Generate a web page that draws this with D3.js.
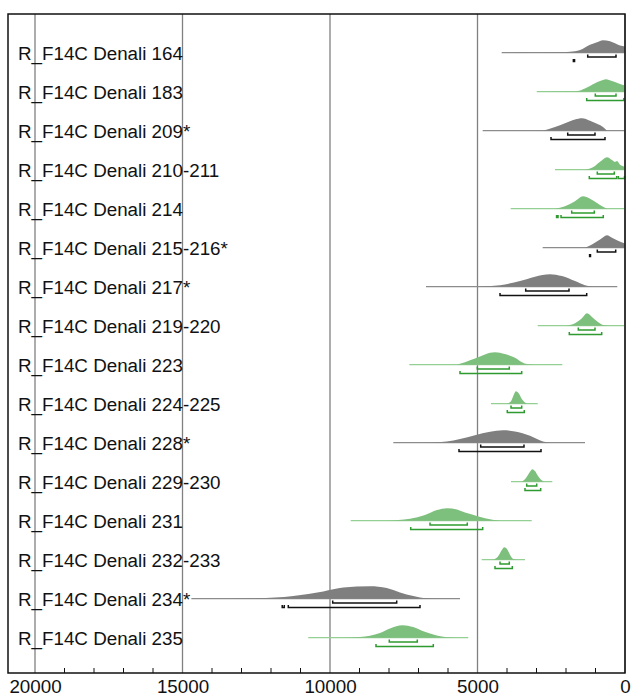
<!DOCTYPE html>
<html>
<head>
<meta charset="utf-8">
<script src="https://cdn.jsdelivr.net/npm/d3@7"></script>
<style>
  html, body { margin: 0; padding: 0; background: #fff; }
  svg { display: block; font-family: "Liberation Sans", Arial, sans-serif; }
</style>
</head>
<body>
<svg id="chart" width="631" height="699"></svg>
<script>
// Sample names, top to bottom
const labels = [
  "R_F14C Denali 164", "R_F14C Denali 183", "R_F14C Denali 209*", "R_F14C Denali 210-211",
  "R_F14C Denali 214", "R_F14C Denali 215-216*", "R_F14C Denali 217*", "R_F14C Denali 219-220",
  "R_F14C Denali 223", "R_F14C Denali 224-225", "R_F14C Denali 228*", "R_F14C Denali 229-230",
  "R_F14C Denali 231", "R_F14C Denali 232-233", "R_F14C Denali 234*", "R_F14C Denali 235"
];

// "grey" = outlier-flagged dates, "green" = accepted dates
const groups = [
  "grey", "green", "grey", "green", "green", "grey", "grey", "green",
  "green", "green", "grey", "green", "green", "green", "grey", "green"
];

// Full extent of each calibrated distribution (cal BP, older -> younger)
const tails = [
  [4180, 0], [2993, 0], [4824, 0], [2373, 0], [3875, 0], [2790, 0], [6746, 261], [2959, 0],
  [7312, 2125], [4542, 2959], [7854, 1356], [3864, 2464], [9298, 3163], [4858, 3390], [14700, 5593], [10736, 5312]
];

// Relative probability density, [cal BP, relative height]
const densities = [
  [[4180, 0], [3000, 0.01], [2315, 0.03], [1864, 0.08], [1525, 0.22], [1186, 0.64], [949, 0.83], [746, 1], [508, 0.92], [339, 0.75], [169, 0.58], [0, 0.5]],
  [[2993, 0], [1627, 0.04], [1356, 0.25], [1017, 0.67], [847, 0.85], [644, 1], [441, 0.85], [237, 0.68], [0, 0.5]],
  [[2780, 0], [2373, 0.3], [2034, 0.6], [1695, 0.9], [1458, 1], [1186, 0.8], [949, 0.55], [746, 0.3], [610, 0]],
  [[1356, 0], [1186, 0.1], [1017, 0.3], [847, 0.63], [610, 1], [441, 0.78], [339, 0.63], [271, 0.7], [169, 0.4], [0, 0.25]],
  [[2373, 0], [2034, 0.2], [1695, 0.6], [1424, 1], [1186, 0.8], [949, 0.45], [746, 0.15], [610, 0]],
  [[1356, 0], [1119, 0.25], [847, 0.65], [610, 1], [441, 0.8], [237, 0.55], [0, 0.33]],
  [[5027, 0], [4237, 0.12], [3559, 0.45], [3051, 0.8], [2542, 1], [2136, 0.85], [1695, 0.45], [1356, 0.12], [1075, 0]],
  [[1976, 0], [1695, 0.2], [1458, 0.6], [1288, 1], [1119, 0.7], [949, 0.35], [736, 0.05], [508, 0]],
  [[5705, 0], [5424, 0.2], [5254, 0.35], [4915, 0.65], [4576, 0.95], [4407, 1], [4068, 0.85], [3729, 0.55], [3492, 0.2], [3322, 0.05], [3051, 0]],
  [[4010, 0], [3864, 0.2], [3763, 0.75], [3695, 1], [3593, 0.8], [3492, 0.35], [3332, 0]],
  [[6610, 0], [6044, 0.1], [5593, 0.3], [5085, 0.6], [4576, 0.88], [4136, 1], [3729, 0.9], [3220, 0.55], [2780, 0.1], [2542, 0]],
  [[3502, 0], [3356, 0.3], [3220, 0.8], [3142, 1], [3051, 0.85], [2949, 0.45], [2847, 0.15], [2746, 0]],
  [[8078, 0], [7288, 0.15], [6780, 0.45], [6373, 0.85], [6034, 1], [5695, 0.9], [5424, 0.65], [5186, 0.5], [4746, 0.2], [4237, 0]],
  [[4464, 0], [4305, 0.25], [4169, 0.8], [4092, 1], [4000, 0.85], [3898, 0.4], [3786, 0.05], [3661, 0]],
  [[13390, 0], [12485, 0.03], [11244, 0.22], [10227, 0.58], [9549, 0.89], [8644, 1], [8078, 0.86], [7627, 0.5], [7176, 0.22], [6722, 0.03], [6271, 0]],
  [[9492, 0], [8983, 0.05], [8305, 0.37], [7966, 0.74], [7536, 1], [7176, 0.85], [6837, 0.51], [6383, 0.17], [6044, 0.03], [5763, 0]]
];

// 68.3% highest posterior density ranges
const ranges68 = [
  [[1264, 305]], [[1007, 305]], [[1942, 1017]], [[939, 363]],
  [[1807, 1041]], [[939, 315]], [[3366, 1898]], [[1583, 1017]],
  [[5007, 3922]], [[3864, 3502]], [[4892, 3424]], [[3332, 2993]],
  [[6610, 5346]], [[4237, 3922]], [[9908, 7739]], [[7990, 7041]]
];

// 95.4% highest posterior density ranges
const ranges95 = [
  [[1750, 1710]], [[1298, 40]], [[2508, 678]], [[1210, 281], [227, 17]],
  [[2320, 2270], [2169, 736]], [[1200, 1170]], [[4237, 1298]], [[1888, 790]],
  [[5593, 3502]], [[3990, 3414]], [[5627, 2847]], [[3390, 2858]],
  [[7264, 4824]], [[4407, 3820]], [[11620, 11550], [11414, 6949]], [[8441, 6498]]
];

// Axis ticks
const majorTicks = [20000, 15000, 10000, 5000, 0];
const minorTicks = d3.range(1000, 20000, 1000).filter(v => v % 5000 !== 0);

const palette = {
  grey:  { fill: "#7f7f7f", line: "#8c8c8c", range: "#111111" },
  green: { fill: "#7dbf7d", line: "#94cf94", range: "#2f9a2f" }
};

const svg = d3.select("#chart");
const frame = { left: 8, top: 14, right: 625, bottom: 673 };

const x = d3.scaleLinear().domain([20000, 0]).range([35, 625]);
const y = d3.scalePoint().domain(labels).range([52.7, 637.7]);
const h = d3.scaleLinear().domain([0, 1]).range([0, 12.5]);

// Grid lines at the labelled ticks
svg.append("g")
  .selectAll("line")
  .data(majorTicks)
  .join("line")
  .attr("x1", d => x(d)).attr("x2", d => x(d))
  .attr("y1", frame.top).attr("y2", frame.bottom)
  .attr("stroke", "#808080")
  .attr("stroke-width", 1.3);

// One group per sample
const rows = svg.append("g")
  .selectAll("g")
  .data(labels.map((name, i) => ({
    name, group: groups[i], tail: tails[i], dens: densities[i],
    r68: ranges68[i], r95: ranges95[i]
  })))
  .join("g")
  .attr("transform", d => `translate(0,${y(d.name)})`);

rows.append("line")
  .attr("x1", d => x(d.tail[0])).attr("x2", d => x(d.tail[1]))
  .attr("y1", 0).attr("y2", 0)
  .attr("stroke", d => palette[d.group].line)
  .attr("stroke-width", 1.2);

const area = d3.area()
  .x(p => x(p[0]))
  .y0(0)
  .y1(p => -h(p[1]))
  .curve(d3.curveMonotoneX);

rows.append("path")
  .attr("d", d => area(d.dens))
  .attr("fill", d => palette[d.group].fill);

// Range brackets with small upturned ends
function bracket(sel, key, dy) {
  sel.each(function (d) {
    const g = d3.select(this);
    d[key].forEach(([a, b]) => {
      const x0 = x(a), x1 = x(b);
      g.append("path")
        .attr("d", `M${x0},${dy - 2.5}V${dy}H${x1}V${dy - 2.5}`)
        .attr("fill", "none")
        .attr("stroke", palette[d.group].range)
        .attr("stroke-width", 1.5);
    });
  });
}
bracket(rows, "r68", 4.2);
bracket(rows, "r95", 8.8);

rows.append("text")
  .attr("x", 18)
  .attr("y", 6.8)
  .attr("font-size", 18.8)
  .attr("fill", "#111")
  .text(d => d.name);

// Frame
svg.append("rect")
  .attr("x", frame.left).attr("y", frame.top)
  .attr("width", frame.right - frame.left)
  .attr("height", frame.bottom - frame.top)
  .attr("fill", "none")
  .attr("stroke", "#111")
  .attr("stroke-width", 1.5);

// Minor ticks pointing into the plot
svg.append("g")
  .selectAll("line")
  .data(minorTicks)
  .join("line")
  .attr("x1", d => x(d)).attr("x2", d => x(d))
  .attr("y1", frame.bottom).attr("y2", frame.bottom - 5)
  .attr("stroke", "#111")
  .attr("stroke-width", 1);

// Bottom axis labels
const axis = d3.axisBottom(x)
  .tickValues(majorTicks)
  .tickSize(0)
  .tickPadding(7)
  .tickFormat(d3.format("d"));

const ax = svg.append("g")
  .attr("transform", `translate(0,${frame.bottom})`)
  .call(axis);
ax.select(".domain").remove();
ax.selectAll("text")
  .attr("font-size", 18.8)
  .attr("font-family", "Liberation Sans, Arial, sans-serif")
  .attr("fill", "#111");
</script>
</body>
</html>
